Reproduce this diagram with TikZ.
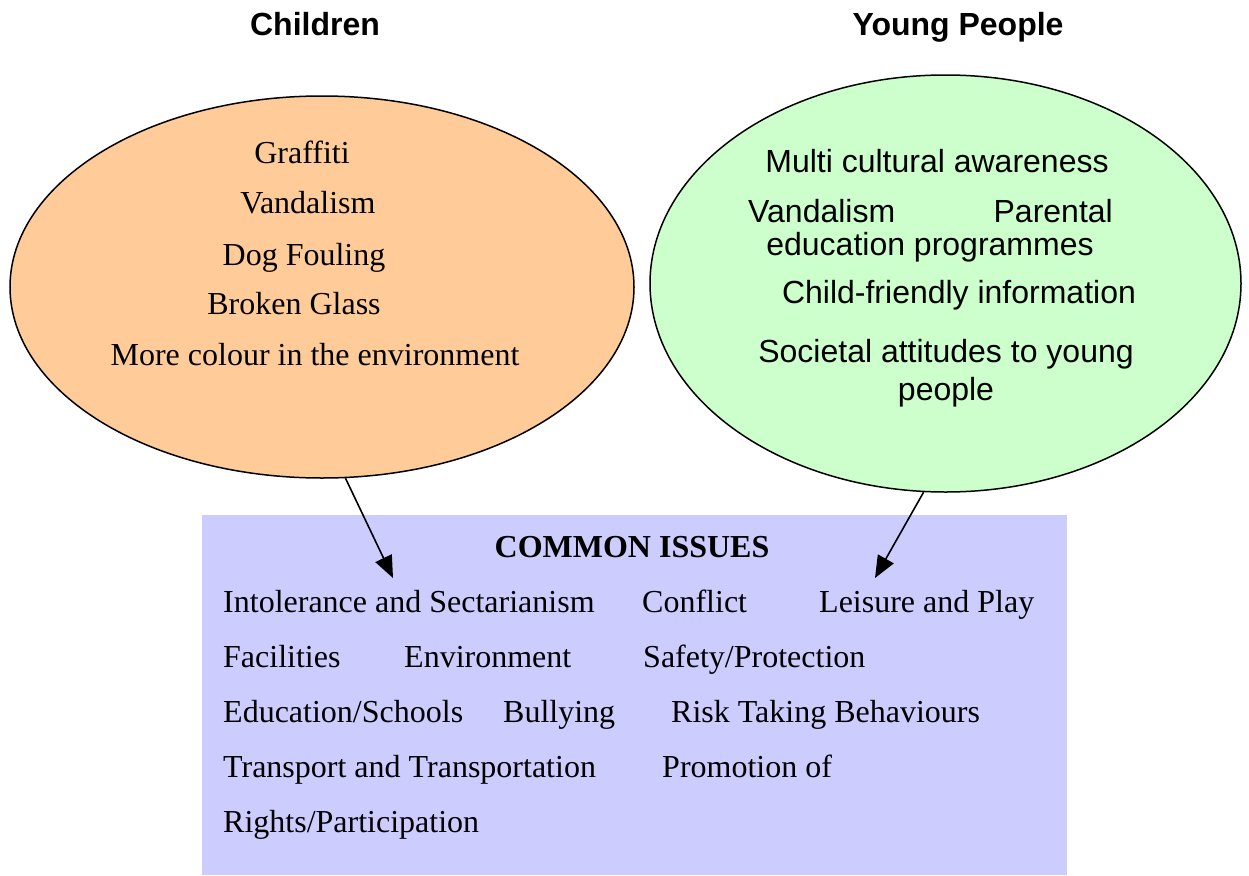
\documentclass[tikz,border=0pt]{standalone}
\usepackage{fontspec}
\setmainfont{Liberation Serif}
\setsansfont{Liberation Sans}
\usetikzlibrary{shapes.geometric, arrows.meta}

\definecolor{peach}{HTML}{FFCC99}
\definecolor{mint}{HTML}{CCFFCC}
\definecolor{lavender}{HTML}{CCCCFF}

\begin{document}
\begin{tikzpicture}[
    x=1pt, y=-1pt,
    bubble/.style={ellipse, draw, line width=1.5pt, inner sep=0pt},
    heading/.style={font=\fontsize{32}{38}\selectfont\sffamily\bfseries, anchor=base, inner sep=0pt},
    item/.style={font=\fontsize{32}{38}\selectfont, anchor=base, inner sep=0pt},
    sitem/.style={font=\fontsize{32}{38}\selectfont\sffamily, anchor=base, inner sep=0pt},
    issue/.style={font=\fontsize{32}{38}\selectfont, anchor=base west, inner sep=0pt},
    arrow/.style={-{Triangle[length=22pt, width=18pt]}, line width=1.6pt}
]
\useasboundingbox (0,0) rectangle (1249,875);

% Headings
\node[heading] (childhead) at (315,36) {Children};
\node[heading] (younghead) at (958,36) {Young People};

% Bubbles
\node[bubble, fill=peach, minimum width=624pt, minimum height=382pt] (children) at (322,287) {};
\node[bubble, fill=mint, minimum width=591pt, minimum height=417pt] (young) at (945.5,283.5) {};

% Children issues
\node[item] (graffiti) at (302,163) {Graffiti};
\node[item] (cvandal) at (308,213) {Vandalism};
\node[item] (dog) at (304,265) {Dog Fouling};
\node[item] (glass) at (294,314) {Broken Glass};
\node[item] (colour) at (315,365) {More colour in the environment};

% Young people issues
\node[sitem] (multi) at (937,172) {Multi cultural awareness};
\node[sitem, anchor=base west] (yvandal) at (748,222) {Vandalism};
\node[sitem, anchor=base east] (parental) at (1113,222) {Parental};
\node[sitem] (parented) at (930,255) {education programmes};
\node[sitem] (childinfo) at (959,303) {Child-friendly information};
\node[sitem] (societal) at (946,362) {Societal attitudes to young};
\node[sitem] (people) at (946,400) {people};

% Common issues box
\node[fill=lavender, minimum width=865pt, minimum height=360pt, inner sep=0pt, anchor=north west] (common) at (202,515) {};
\node[item, font=\fontsize{32}{38}\selectfont\bfseries] (commonhead) at (632,557) {COMMON ISSUES};

\node[issue] (intol) at (223,612) {Intolerance and Sectarianism};
\node[issue] (conflict) at (642,612) {Conflict};
\node[issue] (leisure) at (819,612) {Leisure and Play};
\node[issue] (facil) at (223,667) {Facilities};
\node[issue] (environ) at (404,667) {Environment};
\node[issue] (safety) at (643,667) {Safety/Protection};
\node[issue] (school) at (223,722) {Education/Schools};
\node[issue] (bully) at (503,722) {Bullying};
\node[issue] (risk) at (671,722) {Risk Taking Behaviours};
\node[issue] (transport) at (223,777) {Transport and Transportation};
\node[issue] (promo) at (662,777) {Promotion of};
\node[issue] (rights) at (223,832) {Rights/Participation};

% Arrows
\coordinate (childtip) at (393,578);
\coordinate (youngtip) at (875,578);
\draw[arrow] (children.-83) -- (childtip);
\draw[arrow] (young.-96) -- (youngtip);

\end{tikzpicture}
\end{document}
